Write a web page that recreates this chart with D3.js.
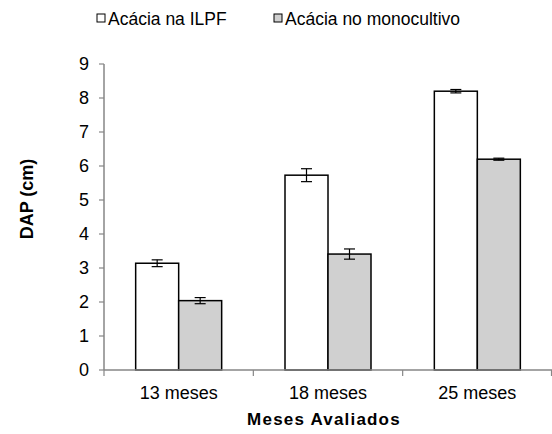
<!DOCTYPE html>
<html>
<head>
<meta charset="utf-8">
<script src="https://cdn.jsdelivr.net/npm/d3@7"></script>
<style>
  body { margin: 0; background: #fff; }
  text { font-family: "Liberation Sans", Arial, sans-serif; }
</style>
</head>
<body>
<div id="main"></div>
<script>
var categories = ["13 meses", "18 meses", "25 meses"];
var seriesNames = ["Acácia na ILPF", "Acácia no monocultivo"];
var ilpf = [3.14, 5.73, 8.2];
var ilpfErr = [0.1, 0.19, 0.05];
var mono = [2.04, 3.41, 6.2];
var monoErr = [0.09, 0.15, 0.03];
var yTicks = [0, 1, 2, 3, 4, 5, 6, 7, 8, 9];
var colors = ["#ffffff", "#d0d0d0"];

var width = 552, height = 434;
var plotLeft = 104, plotRight = 552, plotTop = 64, plotBottom = 370;

var svg = d3.select("#main").append("svg")
  .attr("width", width).attr("height", height);

var x = d3.scaleBand().domain(categories).range([plotLeft, plotRight]);
var y = d3.scaleLinear().domain([0, 9]).range([plotBottom, plotTop]);
var barW = 43;

var series = [
  { values: ilpf, err: ilpfErr, color: colors[0] },
  { values: mono, err: monoErr, color: colors[1] }
];

// bars
series.forEach(function (s, si) {
  categories.forEach(function (c, i) {
    var cx = x(c) + x.bandwidth() / 2;
    var x0 = cx - barW + si * barW;
    svg.append("rect")
      .attr("x", x0).attr("y", y(s.values[i]))
      .attr("width", barW).attr("height", y(0) - y(s.values[i]))
      .attr("fill", s.color).attr("stroke", "#000").attr("stroke-width", 1.5);
    // error bar
    var ex = x0 + barW / 2;
    var hi = y(s.values[i] + s.err[i]), lo = y(s.values[i] - s.err[i]);
    svg.append("line").attr("x1", ex).attr("x2", ex).attr("y1", hi).attr("y2", lo)
      .attr("stroke", "#000").attr("stroke-width", 1.2);
    [hi, lo].forEach(function (yy) {
      svg.append("line").attr("x1", ex - 5.5).attr("x2", ex + 5.5).attr("y1", yy).attr("y2", yy)
        .attr("stroke", "#000").attr("stroke-width", 1.2);
    });
  });
});

// y axis
svg.append("line").attr("x1", plotLeft).attr("x2", plotLeft).attr("y1", plotTop).attr("y2", plotBottom)
  .attr("stroke", "#868686").attr("stroke-width", 1.5);
yTicks.forEach(function (t) {
  svg.append("line").attr("x1", plotLeft - 5).attr("x2", plotLeft).attr("y1", y(t)).attr("y2", y(t))
    .attr("stroke", "#868686").attr("stroke-width", 1.2);
  svg.append("text").attr("x", 89).attr("y", y(t)).attr("dy", "0.36em")
    .attr("text-anchor", "end").style("font-size", "18px").text(t);
});

// x axis
svg.append("line").attr("x1", plotLeft).attr("x2", plotRight).attr("y1", plotBottom).attr("y2", plotBottom)
  .attr("stroke", "#868686").attr("stroke-width", 1.5);
var bounds = categories.map(function (c) { return x(c); }).concat([x.range()[1] - 0.5]);
bounds.forEach(function (b) {
  svg.append("line").attr("x1", b).attr("x2", b).attr("y1", plotBottom).attr("y2", plotBottom + 6)
    .attr("stroke", "#868686").attr("stroke-width", 1.2);
});
categories.forEach(function (c) {
  svg.append("text").attr("x", x(c) + x.bandwidth() / 2).attr("y", 399)
    .attr("text-anchor", "middle").style("font-size", "18px").text(c);
});

// axis titles
svg.append("text").attr("x", 324).attr("y", 425).attr("text-anchor", "middle")
  .style("font-size", "17px").style("font-weight", "bold").style("letter-spacing", "1.2px")
  .text("Meses Avaliados");
svg.append("text").attr("transform", "translate(33,199) rotate(-90)").attr("text-anchor", "middle")
  .style("font-size", "18px").style("font-weight", "bold").text("DAP (cm)");

// legend
var legendX = [97, 274];
seriesNames.forEach(function (n, i) {
  svg.append("rect").attr("x", legendX[i]).attr("y", 14).attr("width", 8).attr("height", 8)
    .attr("fill", colors[i]).attr("stroke", "#000").attr("stroke-width", 1);
  svg.append("text").attr("x", legendX[i] + 11).attr("y", 24.5)
    .style("font-size", "17.5px").text(n);
});
</script>
</body>
</html>
